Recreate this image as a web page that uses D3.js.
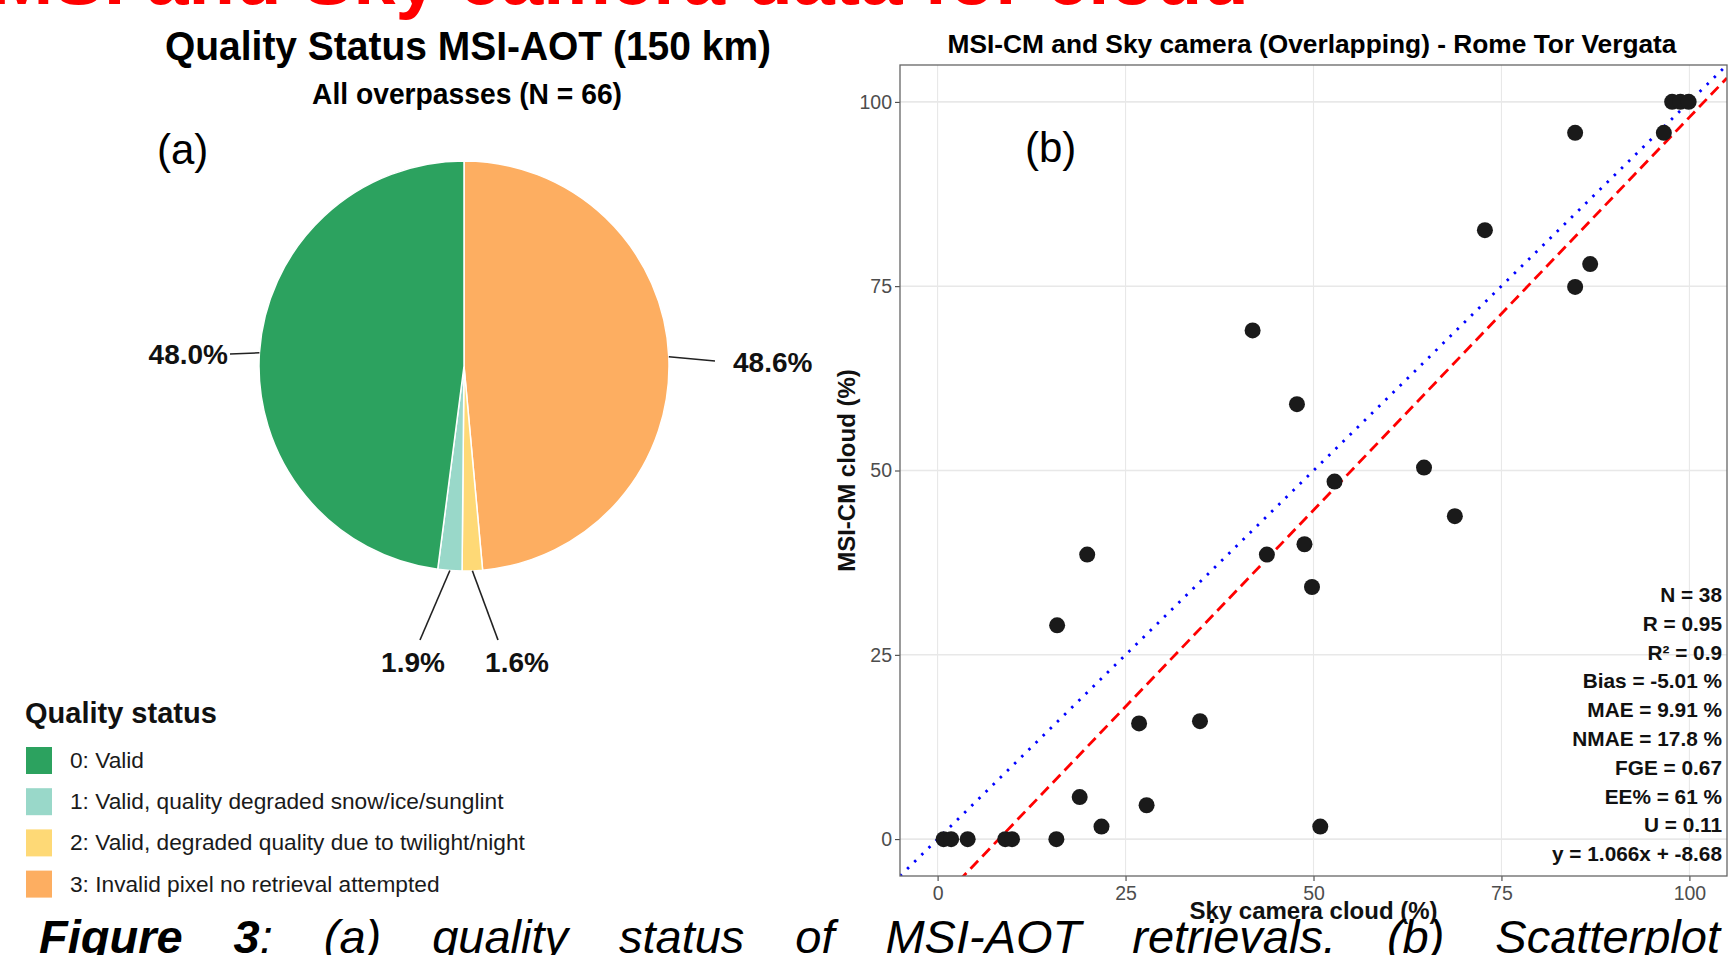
<!DOCTYPE html>
<html><head><meta charset="utf-8">
<script src="https://cdn.jsdelivr.net/npm/d3@7"></script>
<style>
body{margin:0;background:#fff;overflow:hidden}
svg{display:block}
text{font-family:"Liberation Sans",Arial,Helvetica,sans-serif}
</style>
</head><body><svg id="c" width="1736" height="955"></svg>
<script>
// ---------------- data ----------------
const qualityCodes = [0, 1, 2, 3];
const qualityCategories = [
  "0: Valid",
  "1: Valid, quality degraded snow/ice/sunglint",
  "2: Valid, degraded quality due to twilight/night",
  "3: Invalid pixel no retrieval attempted"
];
const qualityPercent = [48.0, 1.9, 1.6, 48.6];
const qualityLabels = ["48.0%", "1.9%", "1.6%", "48.6%"];
const qualityColors = ["#2ca25f", "#99d8c9", "#fed976", "#fdae61"];

const skyCameraCloud = [97.7, 98.8, 99.9, 84.8, 96.6, 72.8, 86.8, 84.8, 41.9,
  47.8, 64.7, 52.8, 68.8, 48.8, 43.8, 19.9, 49.8, 15.9,
  26.8, 34.9, 18.9, 27.8, 21.8, 50.9, 0.8, 1.8, 4.0, 9.0, 9.9, 15.8];
const msiCmCloud = [100, 100, 100, 95.8, 95.8, 82.6, 78.0, 74.9, 69.0,
  59.0, 50.4, 48.5, 43.8, 40.0, 38.6, 38.6, 34.2, 29.0,
  15.7, 16.0, 5.7, 4.6, 1.7, 1.7, 0, 0, 0, 0, 0, 0];
const xTicks = [0, 25, 50, 75, 100];
const yTicks = [0, 25, 50, 75, 100];
const statsLines = ["N = 38", "R = 0.95", "R\u00b2 = 0.9", "Bias = -5.01 %", "MAE = 9.91 %",
  "NMAE = 17.8 %", "FGE = 0.67", "EE% = 61 %", "U = 0.11", "y = 1.066x + -8.68"];
const fitSlope = 1.066, fitIntercept = -8.68;

// ---------------- layout ----------------
const svg = d3.select("#c");

// top red slide text (cut off at the top edge)
svg.append("text").attr("x", -10).attr("y", 4)
  .attr("font-size", 76).attr("font-weight", "bold").attr("fill", "#ff0000")
  .text("MSI and Sky camera data for cloud");

// ===== Panel (a): pie =====
const pieG = svg.append("g");
pieG.append("text").attr("x", 468).attr("y", 60).attr("text-anchor", "middle")
  .attr("font-size", 41).attr("font-weight", "bold").attr("textLength", 606)
  .attr("lengthAdjust", "spacingAndGlyphs")
  .text("Quality Status MSI-AOT (150 km)");
pieG.append("text").attr("x", 467).attr("y", 104).attr("text-anchor", "middle")
  .attr("font-size", 30).attr("font-weight", "bold").attr("textLength", 310)
  .attr("lengthAdjust", "spacingAndGlyphs")
  .text("All overpasses (N = 66)");
pieG.append("text").attr("x", 157).attr("y", 164).attr("font-size", 42).text("(a)");

const cx = 464, cy = 366, R = 205;
const pieData = qualityCodes.map((c, i) => ({code: c, v: qualityPercent[i], label: qualityLabels[i], color: qualityColors[i]}));
// clockwise from 12 o'clock: 3, 2, 1, 0
const pie = d3.pie().sort(null).value(d => d.v);
const arcs = pie(pieData.slice().reverse());
const arc = d3.arc().innerRadius(0).outerRadius(R);
const slices = pieG.append("g").attr("transform", `translate(${cx},${cy})`);
slices.selectAll("path").data(arcs).join("path")
  .attr("d", arc).attr("fill", d => d.data.color)
  .attr("stroke", "#fff").attr("stroke-width", 1.5);

// label placement (by code)
const labelLayout = {
  0: {tx: 228, ty: 364, anchor: "end", ex: 230, ey: 354},
  1: {tx: 413, ty: 672, anchor: "middle", ex: 420, ey: 640},
  2: {tx: 517, ty: 672, anchor: "middle", ex: 498, ey: 640},
  3: {tx: 733, ty: 372, anchor: "start", ex: 715, ey: 361}
};
arcs.forEach(a => {
  const L = labelLayout[a.data.code];
  const mid = (a.startAngle + a.endAngle) / 2;
  const sx = cx + R * Math.sin(mid), sy = cy - R * Math.cos(mid);
  pieG.append("line").attr("x1", sx).attr("y1", sy).attr("x2", L.ex).attr("y2", L.ey)
    .attr("stroke", "#222").attr("stroke-width", 1.6);
  pieG.append("text").attr("x", L.tx).attr("y", L.ty).attr("text-anchor", L.anchor)
    .attr("font-size", 28).attr("font-weight", "bold").attr("fill", "#111")
    .text(a.data.label);
});

// legend
const lg = svg.append("g");
lg.append("text").attr("x", 25).attr("y", 723).attr("font-size", 29).attr("font-weight", "bold")
  .attr("fill", "#111").text("Quality status");
const rows = lg.selectAll("g.row").data(pieData).join("g").attr("class", "row")
  .attr("transform", (d, i) => `translate(26,${747 + i * 41.2})`);
rows.append("rect").attr("width", 26).attr("height", 27).attr("fill", d => d.color);
rows.append("text").attr("x", 44).attr("y", 21).attr("font-size", 22.7).attr("fill", "#1a1a1a")
  .text((d, i) => qualityCategories[i]);

// ===== Panel (b): scatter =====
const P = {l: 900, r: 1727, t: 65, b: 876};
const x = d3.scaleLinear().domain([-5, 105]).range([P.l, P.r]);
const y = d3.scaleLinear().domain([-5, 105]).range([P.b, P.t]);
const sg = svg.append("g");

sg.append("text").attr("x", 1312).attr("y", 53).attr("text-anchor", "middle")
  .attr("font-size", 26).attr("font-weight", "bold").attr("textLength", 729)
  .attr("lengthAdjust", "spacingAndGlyphs")
  .text("MSI-CM and Sky camera (Overlapping) - Rome Tor Vergata");

// grid
sg.append("g").selectAll("line").data(xTicks).join("line")
  .attr("x1", d => x(d)).attr("x2", d => x(d)).attr("y1", P.t).attr("y2", P.b)
  .attr("stroke", "#e8e8e8").attr("stroke-width", 1.1);
sg.append("g").selectAll("line").data(yTicks).join("line")
  .attr("y1", d => y(d)).attr("y2", d => y(d)).attr("x1", P.l).attr("x2", P.r)
  .attr("stroke", "#e8e8e8").attr("stroke-width", 1.6);

// axes
const xAxis = sg.append("g").attr("transform", `translate(0,${P.b})`)
  .call(d3.axisBottom(x).tickValues(xTicks).tickSize(5).tickPadding(5).tickFormat(d3.format("d")));
const yAxis = sg.append("g").attr("transform", `translate(${P.l},0)`)
  .call(d3.axisLeft(y).tickValues(yTicks).tickSize(5).tickPadding(3).tickFormat(d3.format("d")));
[xAxis, yAxis].forEach(a => {
  a.select(".domain").remove();
  a.selectAll(".tick line").attr("stroke", "#333").attr("stroke-width", 1);
  a.selectAll(".tick text").attr("fill", "#4d4d4d").attr("font-size", 19.5)
    .attr("font-family", '"Liberation Sans",Arial,sans-serif');
});

// clip
svg.append("defs").append("clipPath").attr("id", "pc")
  .append("rect").attr("x", P.l).attr("y", P.t).attr("width", P.r - P.l).attr("height", P.b - P.t);
const inner = sg.append("g").attr("clip-path", "url(#pc)");

// 1:1 line
inner.append("line").attr("x1", x(-5)).attr("y1", y(-5)).attr("x2", x(105)).attr("y2", y(105))
  .attr("stroke", "#0000ff").attr("stroke-width", 2.8).attr("stroke-dasharray", "2.5,7.5");
// regression line
inner.append("line").attr("x1", x(-5)).attr("y1", y(fitSlope * -5 + fitIntercept))
  .attr("x2", x(105)).attr("y2", y(fitSlope * 105 + fitIntercept))
  .attr("stroke", "#ff0000").attr("stroke-width", 2.8).attr("stroke-dasharray", "11,6");

// points
inner.selectAll("circle").data(skyCameraCloud.map((v, i) => [v, msiCmCloud[i]])).join("circle")
  .attr("cx", d => x(d[0])).attr("cy", d => y(d[1])).attr("r", 8).attr("fill", "#1a1a1a");

// border
sg.append("rect").attr("x", P.l).attr("y", P.t).attr("width", P.r - P.l).attr("height", P.b - P.t)
  .attr("fill", "none").attr("stroke", "#666").attr("stroke-width", 1.3);

// (b)
sg.append("text").attr("x", 1025).attr("y", 162).attr("font-size", 42).text("(b)");

// stats
sg.append("g").selectAll("text").data(statsLines).join("text")
  .attr("x", 1722).attr("y", (d, i) => 602 + i * 28.8).attr("text-anchor", "end")
  .attr("font-size", 20.8).attr("font-weight", "bold").attr("fill", "#111").text(d => d);

// axis titles
sg.append("text").attr("x", (P.l + P.r) / 2).attr("y", 919).attr("text-anchor", "middle")
  .attr("font-size", 24).attr("font-weight", "bold").attr("fill", "#111").text("Sky camera cloud (%)");
sg.append("text").attr("transform", `translate(855,${(P.t + P.b) / 2}) rotate(-90)`)
  .attr("text-anchor", "middle").attr("font-size", 24).attr("font-weight", "bold").attr("fill", "#111")
  .text("MSI-CM cloud (%)");

// caption (justified, cut off at bottom)
const capBold = "Figure 3", capRest = ": (a) quality status of MSI-AOT retrievals. (b) Scatterplot";
const cap = svg.append("text").attr("x", 39).attr("y", 953).attr("font-size", 47)
  .attr("font-style", "italic").attr("fill", "#000");
cap.append("tspan").attr("font-weight", "bold").text(capBold);
cap.append("tspan").text(capRest);
const natural = cap.node().getComputedTextLength();
const gaps = (capBold + capRest).split(" ").length - 1;
cap.style("word-spacing", ((1720 - 39 - natural) / gaps) + "px");
</script>
</body></html>
